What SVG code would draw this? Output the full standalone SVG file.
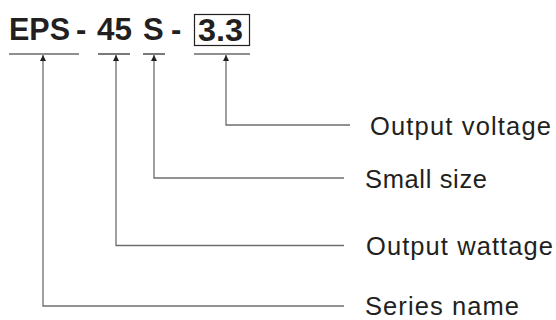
<svg xmlns="http://www.w3.org/2000/svg" width="556" height="320" viewBox="0 0 556 320">
<style>
.code{font-family:"Liberation Sans",Arial,sans-serif;font-weight:bold;font-size:31px;fill:#231f20}
.lbl{font-family:"Liberation Sans",Arial,sans-serif;font-size:25.5px;fill:#231f20}
.ul{stroke:#231f20;stroke-width:1.2;fill:none}
.con{stroke:#6d6d6d;stroke-width:1.3;fill:none}
</style>
<defs>
<marker id="ah" viewBox="0 0 10 10" refX="10" refY="5" markerWidth="10" markerHeight="6" markerUnits="userSpaceOnUse" orient="auto">
<path d="M0,0 L10,5 L0,10 Z" fill="#231f20"/>
</marker>
</defs>
<rect width="556" height="320" fill="#ffffff"/>
<g id="model-code">
<text class="code" x="9" y="40" textLength="61" lengthAdjust="spacingAndGlyphs">EPS</text>
<text class="code" x="76" y="40">-</text>
<text class="code" x="97" y="40" textLength="35" lengthAdjust="spacingAndGlyphs">45</text>
<text class="code" x="143" y="40">S</text>
<text class="code" x="171" y="40">-</text>
<rect x="194.5" y="14.5" width="55" height="31" fill="none" stroke="#231f20" stroke-width="1.2"/>
<text class="code" x="198" y="41" textLength="45" lengthAdjust="spacingAndGlyphs">3.3</text>
<line class="ul" x1="9" y1="54" x2="79" y2="54"/>
<line class="ul" x1="98" y1="54" x2="130" y2="54"/>
<line class="ul" x1="143" y1="54" x2="165" y2="54"/>
<line class="ul" x1="194" y1="54" x2="250" y2="54"/>
</g>
<g id="connectors">
<path class="con" d="M350,125 H226 V55" marker-end="url(#ah)"/>
<path class="con" d="M344,178 H154 V55" marker-end="url(#ah)"/>
<path class="con" d="M344,245.5 H116 V55" marker-end="url(#ah)"/>
<path class="con" d="M344,306 H43 V55" marker-end="url(#ah)"/>
</g>
<g id="output-voltage"><text class="lbl" x="370" y="134.5" textLength="181" lengthAdjust="spacing">Output voltage</text></g>
<g id="small-size"><text class="lbl" x="365" y="187.5" textLength="122" lengthAdjust="spacing">Small size</text></g>
<g id="output-wattage"><text class="lbl" x="366" y="254.5" textLength="187" lengthAdjust="spacing">Output wattage</text></g>
<g id="series-name"><text class="lbl" x="365" y="315" textLength="154" lengthAdjust="spacing">Series name</text></g>
</svg>
